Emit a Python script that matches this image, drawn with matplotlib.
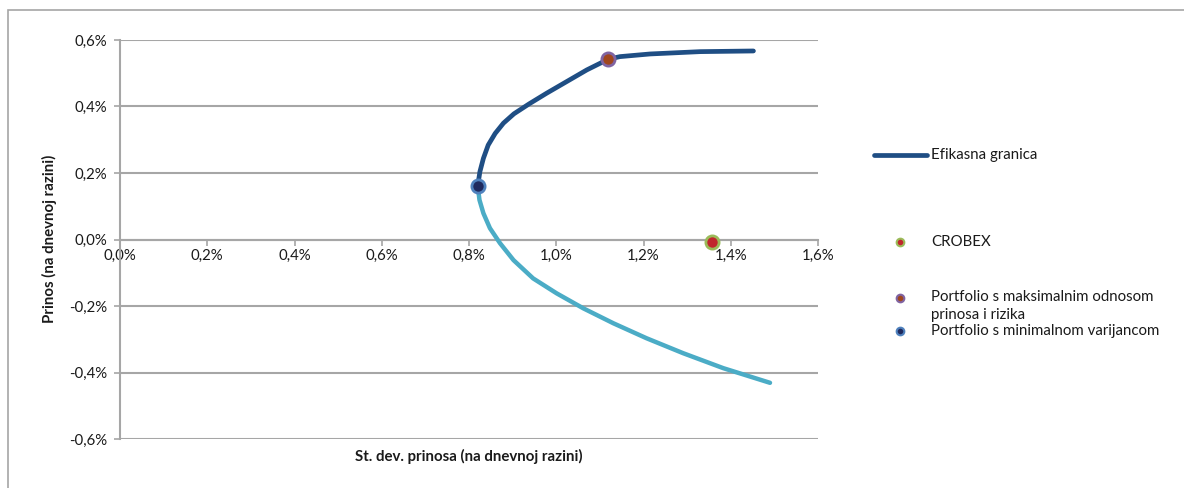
import matplotlib
matplotlib.use("Agg")
import matplotlib.pyplot as plt
from matplotlib.lines import Line2D
from matplotlib.patches import Rectangle
from matplotlib.ticker import FuncFormatter, MultipleLocator

plt.rcParams["font.family"] = ["Lato", "DejaVu Sans"]

# Efficient frontier, upper (efficient) branch, in % per day
upper_std = [0.820, 0.825, 0.833, 0.844, 0.860, 0.879, 0.903, 0.938, 0.978, 1.024,
             1.070, 1.119, 1.146, 1.215, 1.330, 1.452]
upper_ret = [0.161, 0.204, 0.244, 0.284, 0.319, 0.350, 0.378, 0.408, 0.440, 0.475,
             0.510, 0.542, 0.550, 0.558, 0.565, 0.567]

# lower (inefficient) branch
lower_std = [0.820, 0.824, 0.833, 0.848, 0.871, 0.902, 0.947, 1.001, 1.062, 1.131,
             1.207, 1.291, 1.383, 1.490]
lower_ret = [0.161, 0.119, 0.079, 0.034, -0.011, -0.062, -0.117, -0.162, -0.207, -0.252,
             -0.297, -0.342, -0.387, -0.431]

crobex = (1.357, -0.008)
max_sharpe = (1.119, 0.542)
min_var = (0.820, 0.161)

legend_labels = [
    "Efikasna granica",
    "CROBEX",
    "Portfolio s maksimalnim odnosom\nprinosa i rizika",
    "Portfolio s minimalnom varijancom",
]

DARK = "#1F4E84"
LIGHT = "#4BACC6"
GRID = "#A6A6A6"
TEXT = "#1A1A1A"
FS = 10.8


def pct(v, _pos):
    return f"{v:.1f}%".replace(".", ",")


fig = plt.figure(figsize=(11.84, 4.88), dpi=100)
W, H = 1184, 488


def fy(py):
    return 1 - py / H


# outer chart frame (only top and left edges fall inside the image)
fig.add_artist(Rectangle((8 / W, -0.1), 1.2, (H - 10) / H + 0.1,
                         transform=fig.transFigure, fill=False,
                         edgecolor=GRID, linewidth=1.2))

ax = fig.add_axes([120 / W, (H - 439) / H, 698 / W, 399 / H])
ax.set_xlim(0, 1.6)
ax.set_ylim(-0.6, 0.6)

ax.plot(lower_std, lower_ret, color=LIGHT, linewidth=3.2, solid_capstyle="round",
        solid_joinstyle="round", zorder=3)
ax.plot(upper_std, upper_ret, color=DARK, linewidth=3.4, solid_capstyle="round",
        solid_joinstyle="round", zorder=4)

ax.plot(*crobex, "o", markersize=9.5, markerfacecolor="#C0262D",
        markeredgecolor="#9BBB59", markeredgewidth=2, zorder=5)
ax.plot(*max_sharpe, "o", markersize=9.5, markerfacecolor="#A0461E",
        markeredgecolor="#8064A2", markeredgewidth=2, zorder=5)
ax.plot(*min_var, "o", markersize=9.5, markerfacecolor="#1F2A5E",
        markeredgecolor="#4F81BD", markeredgewidth=2, zorder=5)

ax.xaxis.set_major_locator(MultipleLocator(0.2))
ax.yaxis.set_major_locator(MultipleLocator(0.2))
ax.xaxis.set_major_formatter(FuncFormatter(pct))
ax.yaxis.set_major_formatter(FuncFormatter(pct))

ax.spines["top"].set_visible(False)
ax.spines["right"].set_visible(False)
ax.spines["bottom"].set_position(("data", 0))
for s in ("left", "bottom"):
    ax.spines[s].set_color(GRID)
    ax.spines[s].set_linewidth(1.5)

ax.yaxis.grid(True, color=GRID, linewidth=1.5)
ax.set_axisbelow(True)
ax.tick_params(axis="both", colors=GRID, labelcolor=TEXT, labelsize=FS,
               length=4, width=1.2, direction="out")
ax.tick_params(axis="y", pad=5)
ax.tick_params(axis="x", pad=3)

fig.text(469 / W, fy(456), "St. dev. prinosa (na dnevnoj razini)",
         ha="center", va="center", fontsize=FS, fontweight="bold", color=TEXT)
fig.text(49 / W, fy(239), "Prinos (na dnevnoj razini)", rotation=90,
         ha="center", va="center", fontsize=FS, fontweight="bold", color=TEXT)

# legend, laid out by hand
fig.add_artist(Line2D([874 / W, 927 / W], [fy(155), fy(155)], transform=fig.transFigure,
                      color=DARK, linewidth=3.4, solid_capstyle="round"))
legend_marks = [
    (242, "#C0262D", "#9BBB59"),
    (298, "#A0461E", "#8064A2"),
    (331, "#1F2A5E", "#4F81BD"),
]
for py, fc, ec in legend_marks:
    fig.add_artist(Line2D([900 / W], [fy(py)], transform=fig.transFigure, marker="o",
                          markersize=5.5, markerfacecolor=fc, markeredgecolor=ec,
                          markeredgewidth=1.5, linestyle="none"))

text_rows = [155, 242, 306, 331]
for py, label in zip(text_rows, legend_labels):
    fig.text(931 / W, fy(py), label, ha="left", va="center", fontsize=FS,
             color=TEXT, linespacing=1.35)

fig.savefig("out.png", dpi=100, facecolor="white")
